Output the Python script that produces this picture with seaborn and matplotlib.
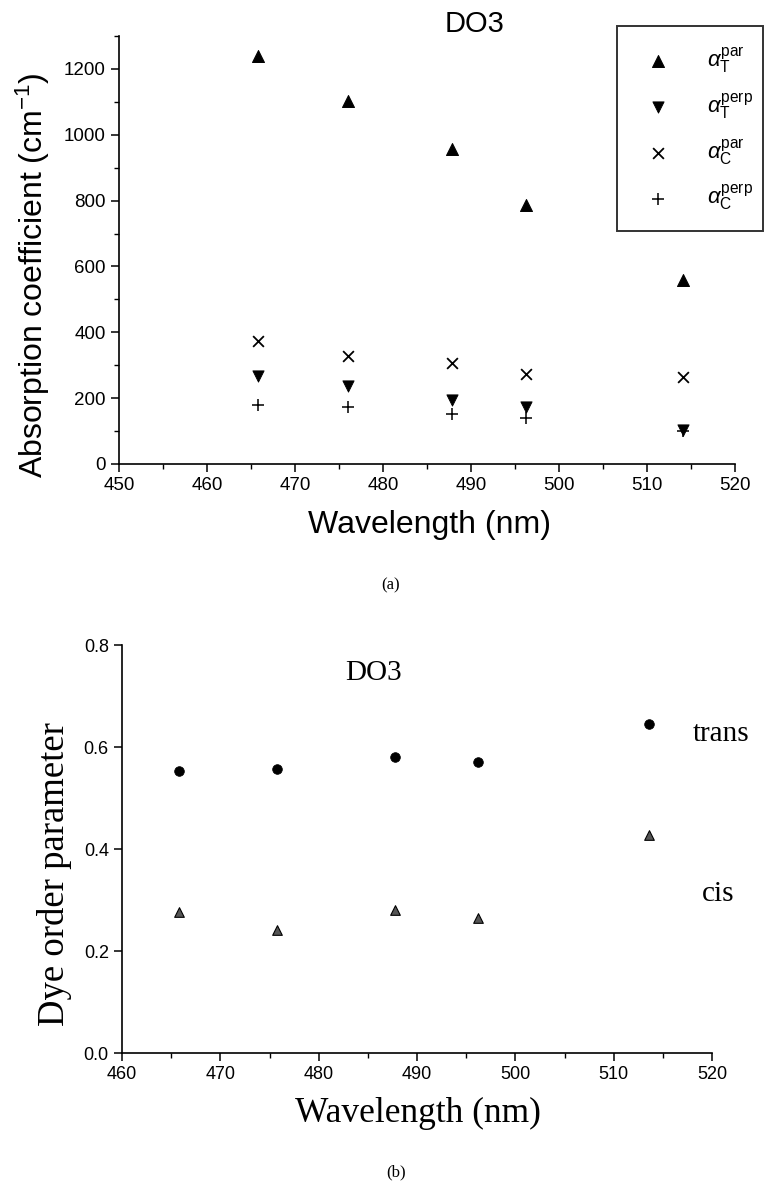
import numpy as np
import pandas as pd
import matplotlib
matplotlib.use("Agg")
import matplotlib.pyplot as plt
from matplotlib.ticker import MultipleLocator, FormatStrFormatter
import seaborn as sns

# panel (a): absorption coefficients of DO3
wl_a = [465.8, 476.0, 487.8, 496.3, 514.1]
aT_par = [1238, 1104, 956, 787, 560]
aT_perp = [266, 237, 193, 174, 103]
aC_par = [375, 329, 307, 274, 263]
aC_perp = [179, 174, 152, 141, 100]

# panel (b): dye order parameter
wl_b = [465.8, 475.8, 487.8, 496.2, 513.6]
S_trans = [0.552, 0.556, 0.580, 0.570, 0.646]
S_cis = [0.277, 0.242, 0.280, 0.265, 0.428]

W, H = 765, 1184

sns.set_style("ticks")
plt.rcParams['font.family'] = ['Liberation Sans', 'DejaVu Sans']
plt.rcParams['mathtext.fontset'] = 'custom'
plt.rcParams['mathtext.rm'] = 'Liberation Sans'
plt.rcParams['mathtext.it'] = 'Liberation Sans:italic'
plt.rcParams['text.color'] = 'black'
plt.rcParams['axes.labelcolor'] = 'black'


def px_axes(fig, left, right, top, bottom):
    return fig.add_axes([left / W, 1 - bottom / H, (right - left) / W, (bottom - top) / H])


def style_axes(ax, lw=1.2, labelsize=13.5):
    sns.despine(ax=ax)
    for s in ['left', 'bottom']:
        ax.spines[s].set_linewidth(lw)
        ax.spines[s].set_color('black')
    ax.tick_params(which='major', direction='out', length=6, width=1.1, colors='black', labelsize=labelsize)
    ax.tick_params(which='minor', direction='out', length=3.5, width=1.0, colors='black')


fig = plt.figure(figsize=(W / 100, H / 100), dpi=100)

# ---------------- (a) ----------------
ax1 = px_axes(fig, 119, 735, 36, 464)
series = [
    (aT_par, '^', r'$\alpha_\mathrm{T}^\mathrm{par}$', 75, dict(color='black', edgecolor='black')),
    (aT_perp, 'v', r'$\alpha_\mathrm{T}^\mathrm{perp}$', 65, dict(color='black', edgecolor='black')),
    (aC_par, 'x', r'$\alpha_\mathrm{C}^\mathrm{par}$', 60, dict(color='black', linewidth=1.3)),
    (aC_perp, '+', r'$\alpha_\mathrm{C}^\mathrm{perp}$', 65, dict(color='black', linewidth=1.1)),
]
for vals, mk, lab, size, kw in series:
    sns.scatterplot(x=wl_a, y=vals, marker=mk, s=size, label=lab, ax=ax1, **kw)

ax1.set_xlim(450, 520)
ax1.set_ylim(0, 1300)
ax1.xaxis.set_major_locator(MultipleLocator(10))
ax1.xaxis.set_minor_locator(MultipleLocator(5))
ax1.yaxis.set_major_locator(MultipleLocator(200))
ax1.yaxis.set_minor_locator(MultipleLocator(100))
style_axes(ax1)
ax1.set_xlabel('Wavelength (nm)', fontsize=23)
ax1.set_ylabel('Absorption coefficient (cm$^{-1}$)', fontsize=23)
ax1.xaxis.set_label_coords((429 - 119) / 616, (464 - 525) / 428)
ax1.xaxis.label.set_va('center')
ax1.yaxis.set_label_coords((33 - 119) / 616, (464 - 275) / 428)
ax1.yaxis.label.set_va('center')

leg = ax1.legend(loc='upper left',
                 bbox_to_anchor=(617 / W, 1 - 226 / H, (763 - 617) / W, 200 / H),
                 bbox_transform=fig.transFigure, mode='expand',
                 fontsize=16, frameon=True, fancybox=False, labelspacing=0.72,
                 handletextpad=1.2, borderpad=0.85, borderaxespad=0)
leg.get_frame().set_edgecolor('black')
leg.get_frame().set_linewidth(1.4)

fig.text(475 / W, 1 - 24 / H, 'DO3', fontsize=21, ha='center', va='center')
fig.text(391 / W, 1 - 585 / H, '(a)', fontsize=12, ha='center', va='center',
         family=['Liberation Serif', 'DejaVu Serif'])

# ---------------- (b) ----------------
ax2 = px_axes(fig, 122, 712, 645, 1053)
sns.scatterplot(x=wl_b, y=S_trans, marker='o', s=48, color='black', edgecolor='black', ax=ax2)
sns.scatterplot(x=wl_b, y=S_cis, marker='^', s=48, color='#555555', edgecolor='black',
                linewidth=0.8, ax=ax2)
ax2.set_xlim(460, 520)
ax2.set_ylim(0, 0.8)
ax2.xaxis.set_major_locator(MultipleLocator(10))
ax2.xaxis.set_minor_locator(MultipleLocator(5))
ax2.yaxis.set_major_locator(MultipleLocator(0.2))
ax2.yaxis.set_major_formatter(FormatStrFormatter('%.1f'))
style_axes(ax2, labelsize=13)
serif = ['Liberation Serif', 'DejaVu Serif']
ax2.set_xlabel('Wavelength (nm)', fontsize=25.5, family=serif)
ax2.set_ylabel('Dye order parameter', fontsize=26.5, family=serif)
ax2.xaxis.set_label_coords((418 - 122) / 590, (1053 - 1113) / 408)
ax2.xaxis.label.set_va('center')
ax2.yaxis.set_label_coords((55 - 122) / 590, (1053 - 874) / 408)
ax2.yaxis.label.set_va('center')

fig.text(374 / W, 1 - 673 / H, 'DO3', fontsize=21, ha='center', va='center', family=serif)
fig.text(693 / W, 1 - 734 / H, 'trans', fontsize=21, ha='left', va='center', family=serif)
fig.text(702 / W, 1 - 894 / H, 'cis', fontsize=21, ha='left', va='center', family=serif)
fig.text(396 / W, 1 - 1172 / H, '(b)', fontsize=12, ha='center', va='center', family=serif)

fig.savefig('out.png', dpi=100)
